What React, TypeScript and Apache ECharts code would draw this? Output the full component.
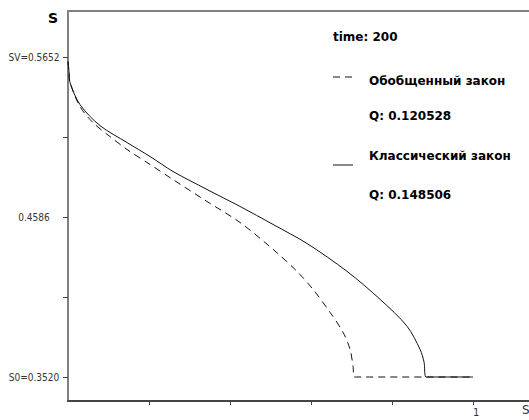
import React, { useEffect, useRef } from "react";
import * as echarts from "echarts";

const classicX = [0, 0.0025, 0.005, 0.0296, 0.079, 0.1457, 0.2025, 0.2593, 0.3432, 0.4247, 0.5062, 0.5901, 0.6889, 0.7704, 0.837, 0.8691, 0.879, 0.884, 1.0];
const classicY = [0.5622, 0.5556, 0.5483, 0.5336, 0.5196, 0.5083, 0.499, 0.489, 0.477, 0.4657, 0.4537, 0.441, 0.4224, 0.4038, 0.3858, 0.3704, 0.3618, 0.352, 0.352];
const generalX = [0, 0.0025, 0.005, 0.0296, 0.0617, 0.1037, 0.1457, 0.2025, 0.2593, 0.3432, 0.4247, 0.5062, 0.5654, 0.6049, 0.6469, 0.679, 0.6963, 0.7037, 0.7062, 1.0];
const generalY = [0.5622, 0.5556, 0.5483, 0.5323, 0.5216, 0.5123, 0.5037, 0.4937, 0.4836, 0.469, 0.455, 0.4371, 0.4224, 0.4104, 0.3951, 0.3818, 0.3704, 0.3591, 0.352, 0.352];

const yTickValues = [0.352, 0.4053, 0.4586, 0.5119, 0.5652];
const yLabelValues = [0.352, 0.4586, 0.5652];
const yLabelTexts = ["S0=0.3520", "0.4586", "SV=0.5652"];
const xTickValues = [0.2, 0.4, 0.6, 0.8, 1];
const xLabelValues = [1];

const timeText = "time: 200";
const generalName = "Обобщенный закон";
const generalQ = "Q: 0.120528";
const classicName = "Классический закон";
const classicQ = "Q: 0.148506";

export default function App() {
  const ref = useRef<HTMLDivElement>(null);
  useEffect(() => {
    document.body.style.margin = "0";
    const chart = echarts.init(ref.current!, null, { renderer: "svg" });
    const zip = (xs: number[], ys: number[]) => xs.map((x, i) => [x, ys[i]]);
    const legendFont = '"DejaVu Sans", sans-serif';
    chart.setOption({
      animation: false,
      backgroundColor: "#fff",
      grid: { left: 68, top: 11, right: 0, bottom: 19, containLabel: false },
      xAxis: [
        {
          type: "value",
          min: 0,
          max: 1.138,
          axisLine: { show: true, onZero: false, lineStyle: { color: "#444", width: 2 } },
          axisTick: { show: true, customValues: xTickValues, length: 4, lineStyle: { color: "#444", width: 1 } },
          axisLabel: {
            show: true,
            customValues: xLabelValues,
            formatter: (v: number) => String(v),
            color: "#333",
            fontSize: 10,
            fontFamily: "DejaVu Sans",
            margin: 6,
            padding: [0, 0, 0, 6],
          },
          splitLine: { show: false },
        },
        {
          type: "value",
          position: "top",
          min: 0,
          max: 1.138,
          axisLine: { show: true, onZero: false, lineStyle: { color: "#808080", width: 2 } },
          axisTick: { show: false },
          axisLabel: { show: false },
          splitLine: { show: false },
        },
      ],
      yAxis: {
        type: "value",
        min: 0.336,
        max: 0.596,
        axisLine: { show: true, onZero: false, lineStyle: { color: "#808080", width: 2 } },
        axisTick: { show: true, customValues: yTickValues, length: 5, lineStyle: { color: "#444", width: 1 } },
        axisLabel: {
          show: true,
          customValues: yLabelValues,
          formatter: (v: number) => {
            let best = 0;
            yLabelValues.forEach((lv, i) => {
              if (Math.abs(lv - v) < Math.abs(yLabelValues[best] - v)) best = i;
            });
            return yLabelTexts[best];
          },
          align: "center",
          margin: 34,
          color: "#333",
          fontSize: 10,
          fontFamily: "DejaVu Sans Condensed, DejaVu Sans",
          padding: [0, 0, 6, 0],
        },
        splitLine: { show: false },
      },
      series: [
        {
          name: generalName,
          type: "line",
          data: zip(generalX, generalY),
          showSymbol: false,
          smooth: 0.3,
          lineStyle: { color: "#111", width: 1, type: [7, 5] },
          z: 2,
        },
        {
          name: classicName,
          type: "line",
          data: zip(classicX, classicY),
          showSymbol: false,
          smooth: 0.3,
          lineStyle: { color: "#111", width: 1 },
          z: 3,
        },
      ],
      graphic: [
        { type: "text", left: 48, top: 11, style: { text: "S", font: 'bold 14px "DejaVu Sans"', fill: "#000" } },
        { type: "text", left: 522, top: 404, style: { text: "S", font: '12px "DejaVu Sans"', fill: "#333" } },
        { type: "text", left: 333, top: 31, style: { text: timeText, font: `bold 12px ${legendFont}`, fill: "#000" } },
        { type: "line", shape: { x1: 333, y1: 77, x2: 353, y2: 77 }, style: { stroke: "#111", lineWidth: 1, lineDash: [7, 5] } },
        { type: "text", left: 369, top: 75, style: { text: generalName, font: `bold 12px ${legendFont}`, fill: "#000" } },
        { type: "text", left: 369, top: 110, style: { text: generalQ, font: `bold 12px ${legendFont}`, fill: "#000" } },
        { type: "line", shape: { x1: 333, y1: 165, x2: 353, y2: 165 }, style: { stroke: "#111", lineWidth: 1 } },
        { type: "text", left: 369, top: 150, style: { text: classicName, font: `bold 12px ${legendFont}`, fill: "#000" } },
        { type: "text", left: 369, top: 189, style: { text: classicQ, font: `bold 12px ${legendFont}`, fill: "#000" } },
      ],
    });
    return () => chart.dispose();
  }, []);
  return <div ref={ref} style={{ width: 529, height: 420 }} />;
}
